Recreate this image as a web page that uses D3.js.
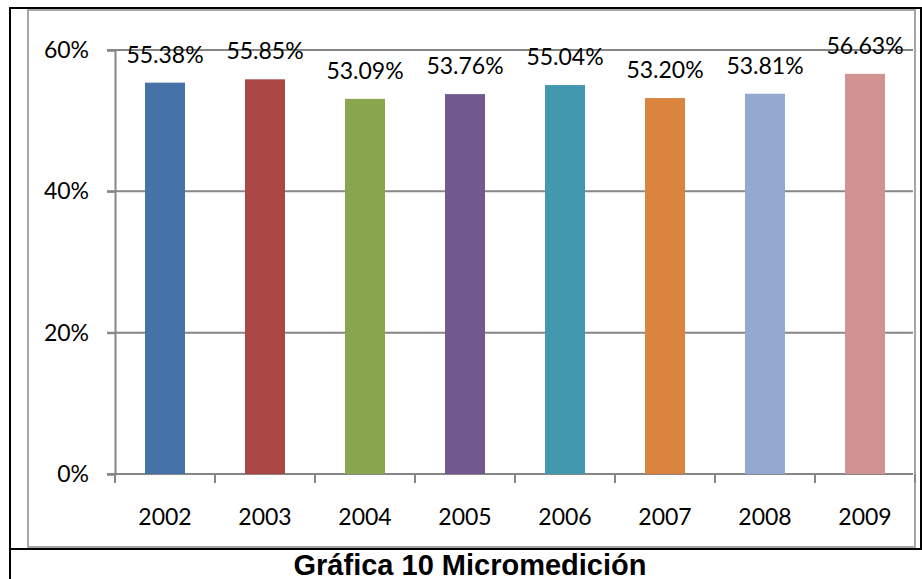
<!DOCTYPE html>
<html>
<head>
<meta charset="utf-8">
<script src="https://cdn.jsdelivr.net/npm/d3@7"></script>
<style>
  body { margin: 0; background: #fff; }
  svg { display: block; }
</style>
</head>
<body>
<div id="chart"></div>
<script>

// --- Daten ------------------------------------------------------------------ //

var years = ['2002', '2003', '2004', '2005', '2006', '2007', '2008', '2009'];
var values = [55.38, 55.85, 53.09, 53.76, 55.04, 53.20, 53.81, 56.63];
var barColors = ['#4572A7', '#AA4643', '#89A54E', '#71588F', '#4198AF', '#DB843D', '#93A9CF', '#D19392'];
var yTicks = [0, 20, 40, 60];
var titleText = 'Gráfica 10 Micromedición';


// --- Grundgerüst ------------------------------------------------------------ //

var width = 922, height = 579;

var svg = d3.select('#chart').append('svg')
    .attr('width', width)
    .attr('height', height);

// Rahmen (Tabelle außen)
svg.append('line').attr('x1', 9).attr('x2', 922).attr('y1', 8).attr('y2', 8)
    .attr('stroke', '#000').attr('stroke-width', 2);
svg.append('line').attr('x1', 10).attr('x2', 10).attr('y1', 7).attr('y2', 579)
    .attr('stroke', '#000').attr('stroke-width', 2);
svg.append('line').attr('x1', 9).attr('x2', 922).attr('y1', 549).attr('y2', 549)
    .attr('stroke', '#000').attr('stroke-width', 2);
svg.append('line').attr('x1', 921).attr('x2', 921).attr('y1', 7).attr('y2', 550)
    .attr('stroke', '#000').attr('stroke-width', 2);

// Diagrammrahmen (grau)
svg.append('rect')
    .attr('x', 28).attr('y', 10)
    .attr('width', 887).attr('height', 537)
    .attr('fill', '#fff')
    .attr('stroke', '#a6a6a6')
    .attr('stroke-width', 2);


// --- Skalen ----------------------------------------------------------------- //

var plotLeft = 115, plotRight = 915, plotTop = 50, plotBottom = 474;

var x = d3.scaleBand()
    .domain(years)
    .range([plotLeft, plotRight])
    .paddingInner(0.6)
    .paddingOuter(0.3);

var y = d3.scaleLinear()
    .domain([0, 60])
    .range([plotBottom, plotTop]);

var fontFam = 'Lato, "Open Sans", sans-serif';
var fontSize = '23px';

// Gitterlinien
var grid = svg.append('g').attr('id', 'grid');
grid.selectAll('line')
    .data(yTicks)
    .enter().append('line')
    .attr('x1', plotLeft - 8)
    .attr('x2', plotRight - 2)
    .attr('y1', function (d) { return y(d); })
    .attr('y2', function (d) { return y(d); })
    .attr('stroke', '#868686')
    .attr('stroke-width', 2);

// y-Achse
var yAxis = svg.append('g')
    .attr('transform', 'translate(' + plotLeft + ',0)')
    .call(d3.axisLeft(y).tickValues(yTicks).tickSize(8)
        .tickFormat(function (d) { return d + '%'; }));
yAxis.select('.domain').attr('stroke', '#868686').attr('stroke-width', 2);
yAxis.selectAll('.tick line').attr('stroke', '#868686').attr('stroke-width', 2);
yAxis.selectAll('.tick text')
    .attr('x', -26)
    .attr('fill', '#000')
    .style('font-family', fontFam)
    .style('font-size', fontSize);

// x-Achse: Teilstriche an den Bandgrenzen
var xAxis = svg.append('g')
    .attr('transform', 'translate(0,' + plotBottom + ')')
    .call(d3.axisBottom(x).tickSize(0).tickPadding(35));
xAxis.select('.domain').remove();
xAxis.selectAll('.tick text')
    .attr('fill', '#000')
    .style('font-family', fontFam)
    .style('font-size', fontSize);

var bounds = d3.range(years.length + 1).map(function (i) { return plotLeft + i * x.step(); });
svg.append('g').selectAll('line')
    .data(bounds)
    .enter().append('line')
    .attr('x1', function (d) { return d; })
    .attr('x2', function (d) { return d; })
    .attr('y1', plotBottom)
    .attr('y2', plotBottom + 9)
    .attr('stroke', '#868686')
    .attr('stroke-width', 2);


// --- Balken ----------------------------------------------------------------- //

var bars = svg.append('g').attr('id', 'bars');
bars.selectAll('rect')
    .data(values)
    .enter().append('rect')
    .attr('x', function (d, i) { return x(years[i]); })
    .attr('y', function (d) { return y(d); })
    .attr('width', x.bandwidth())
    .attr('height', function (d) { return plotBottom - y(d); })
    .attr('fill', function (d, i) { return barColors[i]; });

// Werte über den Balken
svg.append('g').selectAll('text')
    .data(values)
    .enter().append('text')
    .attr('x', function (d, i) { return x(years[i]) + x.bandwidth() / 2; })
    .attr('y', function (d) { return y(d) - 20; })
    .attr('text-anchor', 'middle')
    .attr('fill', '#000')
    .style('font-family', fontFam)
    .style('font-size', fontSize)
    .text(function (d) { return d.toFixed(2) + '%'; });


// --- Titel ------------------------------------------------------------------ //

svg.append('text')
    .attr('x', 470)
    .attr('y', 575)
    .attr('text-anchor', 'middle')
    .attr('fill', '#000')
    .style('font-family', '"Liberation Sans", Arial, sans-serif')
    .style('font-weight', 'bold')
    .style('font-size', '29px')
    .text(titleText);

</script>
</body>
</html>
